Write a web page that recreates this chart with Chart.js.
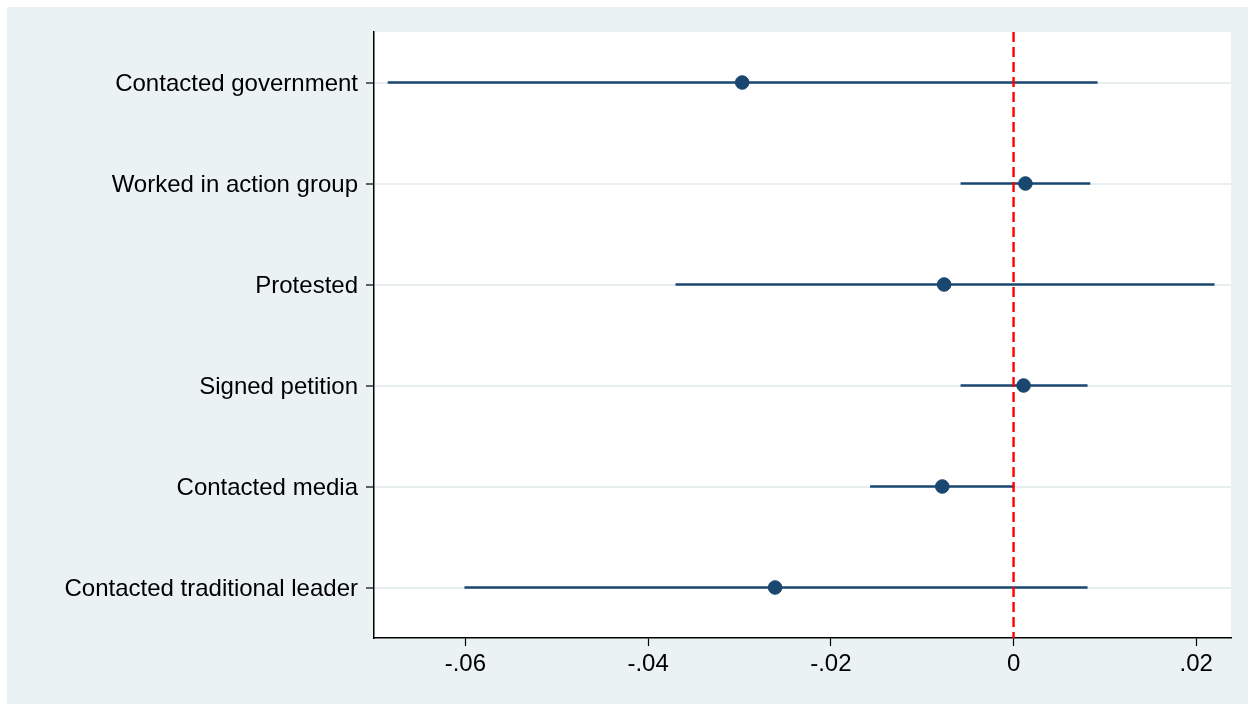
<!DOCTYPE html>
<html>
<head>
<meta charset="utf-8">
<script src="https://cdn.jsdelivr.net/npm/chart.js@4.4.1/dist/chart.umd.min.js"></script>
<style>
  html, body { margin: 0; padding: 0; background: #fff; }
  #wrap { width: 1252px; height: 704px; }
</style>
</head>
<body>
<div id="wrap"><canvas id="Chart" width="1252" height="704"></canvas></div>
<script>
// Data
var categories = ['Contacted government', 'Worked in action group', 'Protested',
                  'Signed petition', 'Contacted media', 'Contacted traditional leader'];
var estimates = [-0.0297, 0.0013, -0.0076, 0.0011, -0.0078, -0.0261];
var ciLow     = [-0.0685, -0.0058, -0.0370, -0.0058, -0.0157, -0.0601];
var ciHigh    = [0.0092, 0.0084, 0.0220, 0.0081, 0.0001, 0.0081];
var xTicks    = [-0.06, -0.04, -0.02, 0, 0.02];

var navy = '#1a476f';

// one line dataset per confidence interval
var datasets = [];
categories.forEach(function (c, i) {
    datasets.push({
        type: 'line',
        data: [{ x: ciLow[i], y: i + 1 }, { x: ciHigh[i], y: i + 1 }],
        borderColor: navy,
        borderWidth: 2.4,
        pointRadius: 0,
        order: 2
    });
});

// reference line at zero
datasets.push({
    type: 'line',
    data: [{ x: 0, y: 0.5 }, { x: 0, y: 6.5 }],
    borderColor: '#ff0000',
    borderWidth: 2.4,
    borderDash: [10, 5],
    pointRadius: 0,
    order: 1
});

// point estimates
datasets.push({
    type: 'scatter',
    data: estimates.map(function (v, i) { return { x: v, y: i + 1 }; }),
    backgroundColor: navy,
    borderColor: navy,
    pointRadius: 6.8,
    order: 0
});

function fmt(v) {
    if (Math.abs(v) < 1e-9) return '0';
    var s = Math.abs(v).toFixed(2).replace(/^0/, '');
    return (v < 0 ? '-' : '') + s;
}

var background = {
    id: 'background',
    beforeDraw: function (chart) {
        var ctx = chart.ctx, a = chart.chartArea;
        ctx.save();
        ctx.fillStyle = '#ffffff';
        ctx.fillRect(0, 0, chart.width, chart.height);
        ctx.fillStyle = '#eaf2f3';
        ctx.fillRect(7, 7, 1241, 697);
        ctx.fillStyle = '#ffffff';
        ctx.fillRect(a.left, a.top, a.right - a.left, a.bottom - a.top);
        ctx.restore();
    }
};

var config = {
    type: 'scatter',
    data: { datasets: datasets },
    options: {
        responsive: false,
        animation: false,
        layout: { padding: { left: 0, top: 32, right: 21, bottom: 0 } },
        plugins: { legend: { display: false }, tooltip: { enabled: false } },
        scales: {
            x: {
                type: 'linear',
                min: -0.07,
                max: 0.0238,
                afterBuildTicks: function (s) {
                    s.ticks = xTicks.map(function (v) { return { value: v }; });
                },
                afterFit: function (s) { s.height = 66; },
                grid: { drawOnChartArea: false, tickLength: 8, tickColor: '#000', tickWidth: 1.2 },
                border: { color: '#000', width: 1.5 },
                ticks: {
                    color: '#000',
                    padding: 4,
                    maxRotation: 0,
                    font: { family: 'Liberation Sans', size: 24 },
                    callback: function (v) { return fmt(v); }
                }
            },
            y: {
                type: 'linear',
                reverse: true,
                min: 0.5,
                max: 6.5,
                afterBuildTicks: function (s) {
                    s.ticks = categories.map(function (c, i) { return { value: i + 1 }; });
                },
                afterFit: function (s) { s.width = 374; },
                grid: { color: '#e6eef0', lineWidth: 2, tickLength: 8, tickColor: '#000', tickWidth: 1.2 },
                border: { color: '#000', width: 1.5 },
                ticks: {
                    color: '#000',
                    padding: 8,
                    labelOffset: 2,
                    font: { family: 'Liberation Sans', size: 24 },
                    callback: function (v) { return categories[Math.round(v) - 1]; }
                }
            }
        }
    },
    plugins: [background]
};

var ctx = document.getElementById('Chart').getContext('2d');
var myChart = new Chart(ctx, config);
</script>
</body>
</html>
